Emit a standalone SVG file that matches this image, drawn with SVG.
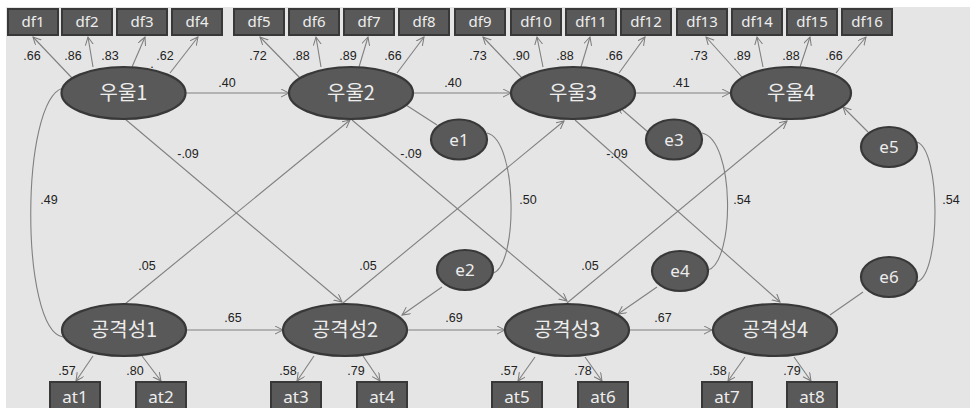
<svg xmlns="http://www.w3.org/2000/svg" width="970" height="408" viewBox="0 0 970 408">
<defs>
<marker id="ah" markerUnits="userSpaceOnUse" markerWidth="10" markerHeight="10" refX="8" refY="4" orient="auto">
<path d="M0,0 L8,4 L0,8" fill="none" stroke="#7a7a7a" stroke-width="1"/>
</marker>
<style>
.ln{fill:none;stroke:#808080;stroke-width:1.1}
.ar{marker-end:url(#ah)}
.box{fill:#595959;stroke:#383838;stroke-width:2}
.ell{fill:#595959;stroke:#383838;stroke-width:2.2}
.bt{font-family:"Noto Sans","Noto Sans CJK KR",sans-serif;font-size:15px;fill:#ededed;text-anchor:middle}
.at{font-family:"Noto Sans","Noto Sans CJK KR",sans-serif;font-size:17px;fill:#ededed;text-anchor:middle}
.lt{font-family:"Noto Sans CJK KR","Noto Sans",sans-serif;font-size:20px;fill:#ededed;text-anchor:middle}
.et{font-family:"Noto Sans","Noto Sans CJK KR",sans-serif;font-size:17px;fill:#ededed;text-anchor:middle}
.nt{font-family:"Liberation Sans","Noto Sans",sans-serif;font-size:12.5px;fill:#222;text-anchor:middle}
</style>
</defs>
<rect x="0" y="0" width="970" height="408" fill="#ffffff"/>
<rect x="6" y="7" width="964" height="401" fill="#e5e5e5"/>

<g id="connectors">
<!-- top loadings -->
<path class="ln ar" d="M72,78 L33,37"/>
<path class="ln ar" d="M93,67 L88,37"/>
<path class="ln ar" d="M132,67 L145,37"/>
<path class="ln ar" d="M170,73 L198,37"/>
<path class="ln ar" d="M300,78 L260,37"/>
<path class="ln ar" d="M321,67 L316,37"/>
<path class="ln ar" d="M359,67 L368,37"/>
<path class="ln ar" d="M397,73 L424,37"/>
<path class="ln ar" d="M522,78 L483,37"/>
<path class="ln ar" d="M543,67 L537,37"/>
<path class="ln ar" d="M581,67 L590,37"/>
<path class="ln ar" d="M619,73 L645,37"/>
<path class="ln ar" d="M742,77 L706,37"/>
<path class="ln ar" d="M763,67 L757,37"/>
<path class="ln ar" d="M800,67 L810,37"/>
<path class="ln ar" d="M836,73 L866,37"/>
<!-- horizontal paths -->
<path class="ln ar" d="M185,93 L289,93"/>
<path class="ln ar" d="M413,93 L511,93"/>
<path class="ln ar" d="M635,93 L730,93"/>
<path class="ln ar" d="M186,330 L283,330"/>
<path class="ln ar" d="M407,330 L505,330"/>
<path class="ln ar" d="M629,330 L712,330"/>
<!-- cross paths -->
<path class="ln ar" d="M125,119 L342,302"/>
<path class="ln ar" d="M125,304 L350,120"/>
<path class="ln ar" d="M352,120 L567,301"/>
<path class="ln ar" d="M343,303 L564,121"/>
<path class="ln ar" d="M575,120 L780,302"/>
<path class="ln ar" d="M567,303 L787,121"/>
<!-- error paths -->
<path class="ln" d="M437,125 L406,105"/>
<path class="ln ar" d="M442,287 L402,315"/>
<path class="ln ar" d="M648,132 L618,106"/>
<path class="ln ar" d="M657,287 L618,314"/>
<path class="ln ar" d="M868,132 L843,107"/>
<path class="ln" d="M863,292 L830,315"/>
<!-- bottom loadings -->
<path class="ln ar" d="M93,356 L76,381"/>
<path class="ln ar" d="M142,356 L161,381"/>
<path class="ln ar" d="M314,356 L297,381"/>
<path class="ln ar" d="M363,356 L380,381"/>
<path class="ln ar" d="M535,357 L518,381"/>
<path class="ln ar" d="M585,357 L602,381"/>
<path class="ln ar" d="M745,357 L728,381"/>
<path class="ln ar" d="M794,357 L811,381"/>
<!-- correlations -->
<path class="ln" d="M63,88 C20,100 20,330 63,337"/>
<path class="ln" d="M487,133 C518,140 518,266 493,273"/>
<path class="ln" d="M702,133 C735,140 735,262 708,270"/>
<path class="ln" d="M917,142 C941,150 941,274 917,282"/>
</g>

<g id="labels">
<text class="nt" x="32" y="60">.66</text>
<text class="nt" x="73" y="60">.86</text>
<text class="nt" x="110" y="60">.83</text>
<text class="nt" x="165" y="60">.62</text>
<text class="nt" x="152" y="68">.</text>
<text class="nt" x="258" y="60">.72</text>
<text class="nt" x="301" y="60">.88</text>
<text class="nt" x="348" y="60">.89</text>
<text class="nt" x="393" y="60">.66</text>
<text class="nt" x="478" y="60">.73</text>
<text class="nt" x="521" y="60">.90</text>
<text class="nt" x="565" y="60">.88</text>
<text class="nt" x="614" y="60">.66</text>
<text class="nt" x="699" y="60">.73</text>
<text class="nt" x="742" y="60">.89</text>
<text class="nt" x="791" y="60">.88</text>
<text class="nt" x="834" y="60">.66</text>
<text class="nt" x="227" y="87">.40</text>
<text class="nt" x="453" y="87">.40</text>
<text class="nt" x="681" y="87">.41</text>
<text class="nt" x="188" y="158">-.09</text>
<text class="nt" x="411" y="158">-.09</text>
<text class="nt" x="617" y="158">-.09</text>
<text class="nt" x="49" y="204">.49</text>
<text class="nt" x="528" y="204">.50</text>
<text class="nt" x="742" y="204">.54</text>
<text class="nt" x="951" y="204">.54</text>
<text class="nt" x="147" y="270">.05</text>
<text class="nt" x="368" y="270">.05</text>
<text class="nt" x="590" y="270">.05</text>
<text class="nt" x="233" y="322">.65</text>
<text class="nt" x="454" y="322">.69</text>
<text class="nt" x="663" y="322">.67</text>
<text class="nt" x="67" y="375">.57</text>
<text class="nt" x="135" y="375">.80</text>
<text class="nt" x="288" y="375">.58</text>
<text class="nt" x="356" y="375">.79</text>
<text class="nt" x="509" y="375">.57</text>
<text class="nt" x="583" y="375">.78</text>
<text class="nt" x="718" y="375">.58</text>
<text class="nt" x="792" y="375">.79</text>
</g>

<g id="df1"><rect class="box" x="8" y="9" width="50" height="26"/><text class="bt" x="33" y="27">df1</text></g>
<g id="df2"><rect class="box" x="62" y="9" width="50" height="26"/><text class="bt" x="87" y="27">df2</text></g>
<g id="df3"><rect class="box" x="117" y="9" width="50" height="26"/><text class="bt" x="142" y="27">df3</text></g>
<g id="df4"><rect class="box" x="172" y="9" width="50" height="26"/><text class="bt" x="197" y="27">df4</text></g>
<g id="df5"><rect class="box" x="234" y="9" width="50" height="26"/><text class="bt" x="259" y="27">df5</text></g>
<g id="df6"><rect class="box" x="289" y="9" width="50" height="26"/><text class="bt" x="314" y="27">df6</text></g>
<g id="df7"><rect class="box" x="344" y="9" width="50" height="26"/><text class="bt" x="369" y="27">df7</text></g>
<g id="df8"><rect class="box" x="399" y="9" width="50" height="26"/><text class="bt" x="424" y="27">df8</text></g>
<g id="df9"><rect class="box" x="455" y="9" width="50" height="26"/><text class="bt" x="480" y="27">df9</text></g>
<g id="df10"><rect class="box" x="511" y="9" width="50" height="26"/><text class="bt" x="536" y="27">df10</text></g>
<g id="df11"><rect class="box" x="566" y="9" width="50" height="26"/><text class="bt" x="591" y="27">df11</text></g>
<g id="df12"><rect class="box" x="621" y="9" width="50" height="26"/><text class="bt" x="646" y="27">df12</text></g>
<g id="df13"><rect class="box" x="677" y="9" width="50" height="26"/><text class="bt" x="702" y="27">df13</text></g>
<g id="df14"><rect class="box" x="732" y="9" width="50" height="26"/><text class="bt" x="757" y="27">df14</text></g>
<g id="df15"><rect class="box" x="787" y="9" width="50" height="26"/><text class="bt" x="812" y="27">df15</text></g>
<g id="df16"><rect class="box" x="842" y="9" width="50" height="26"/><text class="bt" x="867" y="27">df16</text></g>

<g id="dep1"><ellipse class="ell" cx="123.5" cy="93" rx="62" ry="26"/><text class="lt" x="123.5" y="100">우울1</text></g>
<g id="dep2"><ellipse class="ell" cx="351" cy="93" rx="62" ry="26"/><text class="lt" x="351" y="100">우울2</text></g>
<g id="dep3"><ellipse class="ell" cx="573" cy="93" rx="62" ry="26"/><text class="lt" x="573" y="100">우울3</text></g>
<g id="dep4"><ellipse class="ell" cx="791" cy="93" rx="60" ry="26"/><text class="lt" x="791" y="100">우울4</text></g>

<g id="agg1"><ellipse class="ell" cx="124" cy="330" rx="62" ry="26"/><text class="lt" x="124" y="337">공격성1</text></g>
<g id="agg2"><ellipse class="ell" cx="345" cy="330" rx="62" ry="26"/><text class="lt" x="345" y="337">공격성2</text></g>
<g id="agg3"><ellipse class="ell" cx="567" cy="330" rx="62" ry="26"/><text class="lt" x="567" y="337">공격성3</text></g>
<g id="agg4"><ellipse class="ell" cx="775" cy="330" rx="62" ry="26"/><text class="lt" x="775" y="337">공격성4</text></g>

<g id="e1"><ellipse class="ell" cx="459" cy="139.5" rx="28" ry="20"/><text class="et" x="459" y="145.5">e1</text></g>
<g id="e2"><ellipse class="ell" cx="465" cy="270" rx="28" ry="20"/><text class="et" x="465" y="276">e2</text></g>
<g id="e3"><ellipse class="ell" cx="674" cy="139.5" rx="28" ry="20"/><text class="et" x="674" y="145.5">e3</text></g>
<g id="e4"><ellipse class="ell" cx="680" cy="271" rx="28" ry="20"/><text class="et" x="680" y="277">e4</text></g>
<g id="e5"><ellipse class="ell" cx="889" cy="147" rx="28" ry="20"/><text class="et" x="889" y="153">e5</text></g>
<g id="e6"><ellipse class="ell" cx="889" cy="277" rx="28" ry="20"/><text class="et" x="889" y="283">e6</text></g>

<g id="at1"><rect class="box" x="50" y="382" width="50" height="27"/><text class="at" x="75" y="403">at1</text></g>
<g id="at2"><rect class="box" x="136" y="382" width="50" height="27"/><text class="at" x="161" y="403">at2</text></g>
<g id="at3"><rect class="box" x="271" y="382" width="50" height="27"/><text class="at" x="296" y="403">at3</text></g>
<g id="at4"><rect class="box" x="357" y="382" width="50" height="27"/><text class="at" x="382" y="403">at4</text></g>
<g id="at5"><rect class="box" x="492" y="382" width="50" height="27"/><text class="at" x="517" y="403">at5</text></g>
<g id="at6"><rect class="box" x="578" y="382" width="50" height="27"/><text class="at" x="603" y="403">at6</text></g>
<g id="at7"><rect class="box" x="702" y="382" width="50" height="27"/><text class="at" x="727" y="403">at7</text></g>
<g id="at8"><rect class="box" x="787" y="382" width="50" height="27"/><text class="at" x="812" y="403">at8</text></g>
</svg>
